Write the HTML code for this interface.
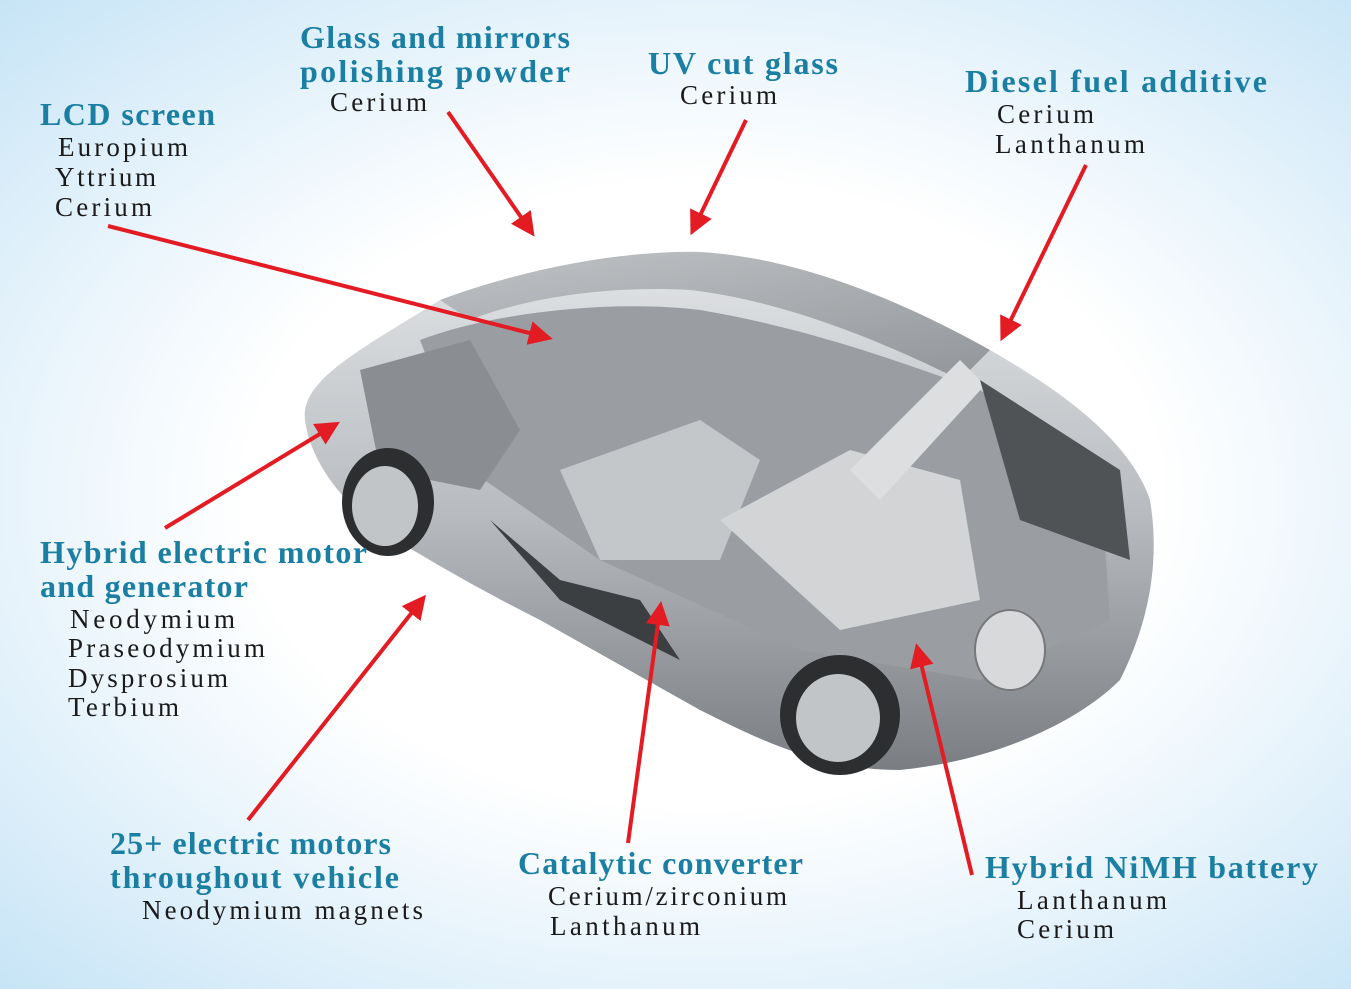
<!DOCTYPE html>
<html><head><meta charset="utf-8">
<style>
html,body{margin:0;padding:0;width:1351px;height:989px;overflow:hidden;}
body{background:radial-gradient(ellipse 75% 70% at 52% 50%,#ffffff 0%,#ffffff 45%,#e6f3fb 70%,#c6e4f6 100%);}
svg{position:absolute;left:0;top:0;}
.h{font-family:"Liberation Serif",serif;font-weight:bold;font-size:32px;fill:#1a7fa3;}
.s{font-family:"Liberation Serif",serif;font-size:27px;fill:#1a1a1a;}
</style></head><body>
<svg width="1351" height="989" viewBox="0 0 1351 989">
<defs>
<linearGradient id="body" x1="0" y1="0" x2="0" y2="1">
<stop offset="0" stop-color="#e2e4e6"/><stop offset="0.5" stop-color="#b8bcc0"/><stop offset="1" stop-color="#7a7e82"/></linearGradient>
<linearGradient id="glass" x1="0" y1="0" x2="1" y2="1">
<stop offset="0" stop-color="#a8acb0"/><stop offset="1" stop-color="#6a6e72"/></linearGradient>
<marker id="ah" markerWidth="6" markerHeight="6" refX="4" refY="3" orient="auto" markerUnits="strokeWidth">
<path d="M0,0 L6,3 L0,6 z" fill="#e31b23"/></marker>
</defs>
<path d="M305,420 C300,380 360,350 440,300 C520,270 620,250 700,252 C800,258 900,300 990,350 C1060,390 1130,440 1150,500 C1160,560 1150,620 1120,680 C1080,720 1000,760 900,770 C820,770 760,740 700,710 L540,620 C480,590 420,555 380,530 C340,500 310,460 305,420 Z" fill="url(#body)"/>
<path d="M440,300 C520,270 620,250 700,252 C800,258 900,300 990,350 L960,380 C880,340 780,300 690,290 C600,285 520,300 470,320 Z" fill="url(#glass)" opacity="0.6"/>
<path d="M420,340 C500,310 620,300 700,310 C820,330 920,370 980,390 L1100,470 L1110,620 L980,680 L800,650 L600,560 L470,470 Z" fill="#9a9ea2"/>
<path d="M560,470 L700,420 L760,460 L720,560 L600,560 Z" fill="#c4c7ca"/>
<path d="M720,520 L850,450 L960,480 L980,600 L840,630 Z" fill="#d2d4d6"/>
<path d="M850,470 L960,360 L985,385 L880,500 Z" fill="#dcdedf"/>
<path d="M490,520 L560,580 L640,600 L680,660 L560,600 Z" fill="#3c3f42"/>
<path d="M980,380 L1120,470 L1130,560 L1020,520 Z" fill="#505356"/>
<path d="M360,370 L470,340 L520,430 L480,490 L380,470 Z" fill="#8a8d91"/>
<ellipse cx="388" cy="502" rx="46" ry="54" fill="#2c2e30"/>
<ellipse cx="385" cy="506" rx="33" ry="40" fill="#c2c5c8"/>
<ellipse cx="840" cy="715" rx="60" ry="60" fill="#2c2e30"/>
<ellipse cx="838" cy="718" rx="42" ry="44" fill="#c2c5c8"/>
<ellipse cx="1010" cy="650" rx="35" ry="40" fill="#d7d9db" stroke="#777" stroke-width="2"/>

<g stroke="#e31b23" stroke-width="4" fill="none" marker-end="url(#ah)">
<line x1="448" y1="112" x2="530" y2="230"/>
<line x1="746" y1="120" x2="694" y2="228"/>
<line x1="1086" y1="165" x2="1004" y2="334"/>
<line x1="108" y1="226" x2="545" y2="337"/>
<line x1="165" y1="528" x2="333" y2="426"/>
<line x1="248" y1="820" x2="421" y2="601"/>
<line x1="628" y1="843" x2="660" y2="609"/>
<line x1="972" y1="875" x2="918" y2="651"/>
</g>

<text class="h" x="300" y="48" textLength="270">Glass and mirrors</text>
<text class="h" x="300" y="82" textLength="270">polishing powder</text>
<text class="s" x="330" y="111" textLength="97">Cerium</text>
<text class="h" x="648" y="74" textLength="190">UV cut glass</text>
<text class="s" x="680" y="104" textLength="97">Cerium</text>
<text class="h" x="965" y="92" textLength="302">Diesel fuel additive</text>
<text class="s" x="997" y="123" textLength="97">Cerium</text>
<text class="s" x="995" y="153" textLength="150">Lanthanum</text>
<text class="h" x="40" y="125" textLength="175">LCD screen</text>
<text class="s" x="58" y="156" textLength="130">Europium</text>
<text class="s" x="55" y="186" textLength="101">Yttrium</text>
<text class="s" x="55" y="216" textLength="97">Cerium</text>
<text class="h" x="40" y="563" textLength="327">Hybrid electric motor</text>
<text class="h" x="40" y="597" textLength="208">and generator</text>
<text class="s" x="70" y="628" textLength="165">Neodymium</text>
<text class="s" x="68" y="657" textLength="197">Praseodymium</text>
<text class="s" x="68" y="687" textLength="160">Dysprosium</text>
<text class="s" x="68" y="716" textLength="111">Terbium</text>
<text class="h" x="110" y="854" textLength="281">25+ electric motors</text>
<text class="h" x="110" y="888" textLength="289">throughout vehicle</text>
<text class="s" x="142" y="919" textLength="281">Neodymium magnets</text>
<text class="h" x="518" y="874" textLength="285">Catalytic converter</text>
<text class="s" x="548" y="905" textLength="239">Cerium/zirconium</text>
<text class="s" x="550" y="935" textLength="150">Lanthanum</text>
<text class="h" x="985" y="878" textLength="333">Hybrid NiMH battery</text>
<text class="s" x="1017" y="909" textLength="150">Lanthanum</text>
<text class="s" x="1017" y="938" textLength="97">Cerium</text>
</svg>
</body></html>
